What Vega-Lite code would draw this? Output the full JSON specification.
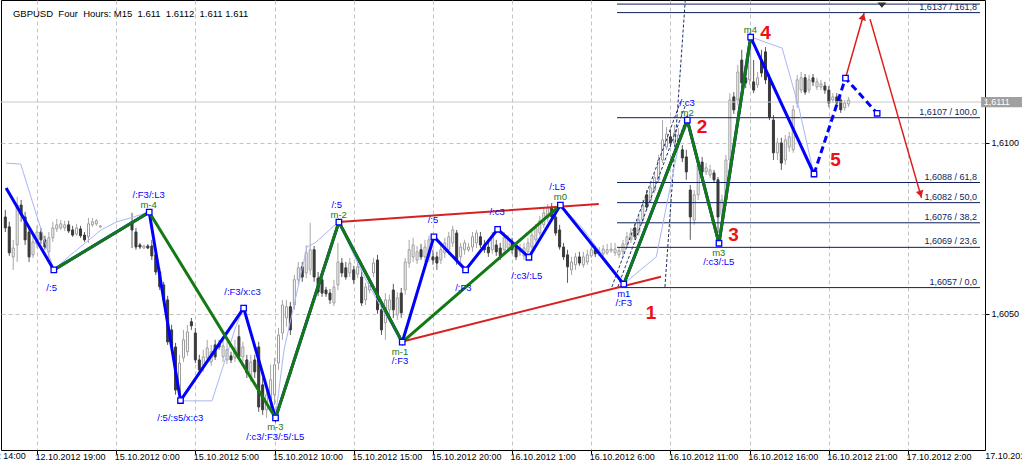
{
 "$schema": "https://vega.github.io/schema/vega-lite/v6.json",
 "width": 984, "height": 450,
 "autosize": {"type": "none"},
 "padding": {"left": 1, "top": 0, "right": 37, "bottom": 15},
 "background": "#ffffff",
 "config": {
  "view": {"stroke": "#000000", "strokeWidth": 1},
  "axis": {"title": null, "labelFont": "Liberation Sans", "labelFontSize": 9, "labelColor": "#000000", "tickColor": "#000000", "domain": false, "grid": true, "gridColor": "#c4c4c4", "gridDash": [4, 3], "gridWidth": 1},
  "text": {"font": "Liberation Sans"}
 },
 "datasets": {
  "candles": [
   {"t":-8,"o":1.60783,"h":1.60804,"l":1.60739,"c":1.60751},
   {"t":-7,"o":1.60754,"h":1.60769,"l":1.60669,"c":1.60678},
   {"t":-6,"o":1.60666,"h":1.60716,"l":1.60628,"c":1.60692},
   {"t":-5,"o":1.60701,"h":1.60842,"l":1.60651,"c":1.60818},
   {"t":-4,"o":1.60818,"h":1.60833,"l":1.60769,"c":1.60789},
   {"t":-3,"o":1.60783,"h":1.60798,"l":1.60701,"c":1.60716},
   {"t":-2,"o":1.60739,"h":1.60751,"l":1.60651,"c":1.60666},
   {"t":-1,"o":1.60672,"h":1.60728,"l":1.60663,"c":1.60710},
   {"t":0,"o":1.60704,"h":1.60757,"l":1.60692,"c":1.60739},
   {"t":1,"o":1.60739,"h":1.60751,"l":1.60704,"c":1.60716},
   {"t":2,"o":1.60716,"h":1.60728,"l":1.60687,"c":1.60695},
   {"t":3,"o":1.60681,"h":1.60739,"l":1.60663,"c":1.60722},
   {"t":4,"o":1.60722,"h":1.60769,"l":1.60710,"c":1.60751},
   {"t":5,"o":1.60748,"h":1.60777,"l":1.60739,"c":1.60760},
   {"t":6,"o":1.60751,"h":1.60774,"l":1.60745,"c":1.60763},
   {"t":7,"o":1.60751,"h":1.60772,"l":1.60742,"c":1.60760},
   {"t":8,"o":1.60760,"h":1.60772,"l":1.60736,"c":1.60742},
   {"t":9,"o":1.60745,"h":1.60757,"l":1.60725,"c":1.60730},
   {"t":10,"o":1.60733,"h":1.60763,"l":1.60728,"c":1.60751},
   {"t":11,"o":1.60748,"h":1.60757,"l":1.60722,"c":1.60728},
   {"t":12,"o":1.60730,"h":1.60739,"l":1.60710,"c":1.60716},
   {"t":13,"o":1.60725,"h":1.60780,"l":1.60707,"c":1.60763},
   {"t":14,"o":1.60760,"h":1.60780,"l":1.60754,"c":1.60769},
   {"t":15,"o":1.60763,"h":1.60777,"l":1.60757,"c":1.60772},
   {"t":16,"o":1.60754,"h":1.60757,"l":1.60751,"c":1.60757},
   {"t":24,"o":1.60769,"h":1.60795,"l":1.60692,"c":1.60745},
   {"t":25,"o":1.60739,"h":1.60751,"l":1.60687,"c":1.60695},
   {"t":26,"o":1.60701,"h":1.60707,"l":1.60689,"c":1.60695},
   {"t":27,"o":1.60692,"h":1.60701,"l":1.60689,"c":1.60698},
   {"t":28,"o":1.60698,"h":1.60704,"l":1.60689,"c":1.60692},
   {"t":29,"o":1.60698,"h":1.60716,"l":1.60657,"c":1.60669},
   {"t":30,"o":1.60672,"h":1.60687,"l":1.60613,"c":1.60622},
   {"t":31,"o":1.60622,"h":1.60634,"l":1.60569,"c":1.60578},
   {"t":32,"o":1.60584,"h":1.60593,"l":1.60531,"c":1.60540},
   {"t":33,"o":1.60540,"h":1.60552,"l":1.60408,"c":1.60417},
   {"t":34,"o":1.60452,"h":1.60467,"l":1.60394,"c":1.60408},
   {"t":35,"o":1.60402,"h":1.60414,"l":1.60262,"c":1.60276},
   {"t":36,"o":1.60267,"h":1.60379,"l":1.60247,"c":1.60355},
   {"t":37,"o":1.60370,"h":1.60452,"l":1.60358,"c":1.60423},
   {"t":38,"o":1.60388,"h":1.60467,"l":1.60376,"c":1.60446},
   {"t":39,"o":1.60476,"h":1.60487,"l":1.60452,"c":1.60464},
   {"t":40,"o":1.60443,"h":1.60458,"l":1.60355,"c":1.60364},
   {"t":41,"o":1.60364,"h":1.60379,"l":1.60326,"c":1.60335},
   {"t":42,"o":1.60341,"h":1.60394,"l":1.60329,"c":1.60373},
   {"t":43,"o":1.60370,"h":1.60423,"l":1.60358,"c":1.60399},
   {"t":44,"o":1.60358,"h":1.60408,"l":1.60347,"c":1.60388},
   {"t":45,"o":1.60408,"h":1.60423,"l":1.60364,"c":1.60373},
   {"t":46,"o":1.60411,"h":1.60423,"l":1.60394,"c":1.60402},
   {"t":47,"o":1.60373,"h":1.60423,"l":1.60358,"c":1.60405},
   {"t":48,"o":1.60364,"h":1.60417,"l":1.60352,"c":1.60394},
   {"t":49,"o":1.60376,"h":1.60388,"l":1.60355,"c":1.60364},
   {"t":50,"o":1.60370,"h":1.60423,"l":1.60358,"c":1.60399},
   {"t":51,"o":1.60432,"h":1.60467,"l":1.60364,"c":1.60373},
   {"t":52,"o":1.60373,"h":1.60417,"l":1.60358,"c":1.60402},
   {"t":53,"o":1.60364,"h":1.60379,"l":1.60311,"c":1.60326},
   {"t":54,"o":1.60311,"h":1.60379,"l":1.60300,"c":1.60358},
   {"t":55,"o":1.60364,"h":1.60379,"l":1.60311,"c":1.60329},
   {"t":56,"o":1.60402,"h":1.60417,"l":1.60212,"c":1.60226},
   {"t":57,"o":1.60291,"h":1.60311,"l":1.60203,"c":1.60218},
   {"t":58,"o":1.60218,"h":1.60276,"l":1.60194,"c":1.60262},
   {"t":59,"o":1.60247,"h":1.60350,"l":1.60218,"c":1.60306},
   {"t":60,"o":1.60262,"h":1.60370,"l":1.60232,"c":1.60350},
   {"t":61,"o":1.60355,"h":1.60458,"l":1.60335,"c":1.60437},
   {"t":62,"o":1.60443,"h":1.60540,"l":1.60423,"c":1.60525},
   {"t":63,"o":1.60487,"h":1.60540,"l":1.60461,"c":1.60520},
   {"t":64,"o":1.60520,"h":1.60534,"l":1.60437,"c":1.60452},
   {"t":65,"o":1.60525,"h":1.60613,"l":1.60511,"c":1.60599},
   {"t":66,"o":1.60599,"h":1.60651,"l":1.60584,"c":1.60634},
   {"t":67,"o":1.60637,"h":1.60651,"l":1.60593,"c":1.60607},
   {"t":68,"o":1.60619,"h":1.60701,"l":1.60604,"c":1.60678},
   {"t":69,"o":1.60628,"h":1.60766,"l":1.60613,"c":1.60687},
   {"t":70,"o":1.60687,"h":1.60698,"l":1.60593,"c":1.60607},
   {"t":71,"o":1.60604,"h":1.60622,"l":1.60552,"c":1.60563},
   {"t":72,"o":1.60599,"h":1.60610,"l":1.60549,"c":1.60560},
   {"t":73,"o":1.60569,"h":1.60578,"l":1.60549,"c":1.60558},
   {"t":74,"o":1.60560,"h":1.60572,"l":1.60528,"c":1.60540},
   {"t":75,"o":1.60531,"h":1.60599,"l":1.60522,"c":1.60578},
   {"t":76,"o":1.60584,"h":1.60707,"l":1.60569,"c":1.60651},
   {"t":77,"o":1.60648,"h":1.60663,"l":1.60607,"c":1.60619},
   {"t":78,"o":1.60634,"h":1.60651,"l":1.60599,"c":1.60607},
   {"t":79,"o":1.60619,"h":1.60663,"l":1.60607,"c":1.60648},
   {"t":80,"o":1.60628,"h":1.60640,"l":1.60587,"c":1.60599},
   {"t":81,"o":1.60616,"h":1.60651,"l":1.60604,"c":1.60637},
   {"t":82,"o":1.60607,"h":1.60628,"l":1.60522,"c":1.60531},
   {"t":83,"o":1.60540,"h":1.60590,"l":1.60525,"c":1.60578},
   {"t":84,"o":1.60569,"h":1.60604,"l":1.60560,"c":1.60590},
   {"t":85,"o":1.60619,"h":1.60663,"l":1.60607,"c":1.60648},
   {"t":86,"o":1.60657,"h":1.60672,"l":1.60499,"c":1.60511},
   {"t":87,"o":1.60511,"h":1.60525,"l":1.60437,"c":1.60452},
   {"t":88,"o":1.60473,"h":1.60560,"l":1.60423,"c":1.60540},
   {"t":89,"o":1.60511,"h":1.60555,"l":1.60496,"c":1.60540},
   {"t":90,"o":1.60569,"h":1.60587,"l":1.60487,"c":1.60511},
   {"t":91,"o":1.60496,"h":1.60563,"l":1.60481,"c":1.60546},
   {"t":92,"o":1.60560,"h":1.60575,"l":1.60487,"c":1.60502},
   {"t":93,"o":1.60569,"h":1.60663,"l":1.60555,"c":1.60651},
   {"t":94,"o":1.60648,"h":1.60716,"l":1.60634,"c":1.60687},
   {"t":95,"o":1.60666,"h":1.60722,"l":1.60651,"c":1.60701},
   {"t":96,"o":1.60657,"h":1.60698,"l":1.60645,"c":1.60681},
   {"t":97,"o":1.60687,"h":1.60704,"l":1.60657,"c":1.60666},
   {"t":98,"o":1.60666,"h":1.60716,"l":1.60651,"c":1.60695},
   {"t":99,"o":1.60666,"h":1.60728,"l":1.60651,"c":1.60716},
   {"t":100,"o":1.60666,"h":1.60687,"l":1.60643,"c":1.60657},
   {"t":101,"o":1.60666,"h":1.60681,"l":1.60628,"c":1.60648},
   {"t":102,"o":1.60657,"h":1.60701,"l":1.60645,"c":1.60687},
   {"t":103,"o":1.60678,"h":1.60722,"l":1.60663,"c":1.60707},
   {"t":104,"o":1.60687,"h":1.60739,"l":1.60672,"c":1.60725},
   {"t":105,"o":1.60707,"h":1.60757,"l":1.60695,"c":1.60745},
   {"t":106,"o":1.60736,"h":1.60745,"l":1.60643,"c":1.60657},
   {"t":107,"o":1.60666,"h":1.60707,"l":1.60651,"c":1.60695},
   {"t":108,"o":1.60687,"h":1.60716,"l":1.60672,"c":1.60707},
   {"t":109,"o":1.60687,"h":1.60707,"l":1.60681,"c":1.60695},
   {"t":110,"o":1.60695,"h":1.60739,"l":1.60681,"c":1.60725},
   {"t":111,"o":1.60707,"h":1.60745,"l":1.60692,"c":1.60736},
   {"t":112,"o":1.60725,"h":1.60739,"l":1.60692,"c":1.60701},
   {"t":113,"o":1.60701,"h":1.60716,"l":1.60678,"c":1.60687},
   {"t":114,"o":1.60695,"h":1.60710,"l":1.60666,"c":1.60678},
   {"t":115,"o":1.60687,"h":1.60739,"l":1.60675,"c":1.60725},
   {"t":116,"o":1.60701,"h":1.60716,"l":1.60669,"c":1.60681},
   {"t":117,"o":1.60692,"h":1.60707,"l":1.60657,"c":1.60669},
   {"t":118,"o":1.60687,"h":1.60739,"l":1.60675,"c":1.60722},
   {"t":119,"o":1.60692,"h":1.60730,"l":1.60681,"c":1.60716},
   {"t":120,"o":1.60707,"h":1.60722,"l":1.60675,"c":1.60687},
   {"t":121,"o":1.60695,"h":1.60707,"l":1.60657,"c":1.60666},
   {"t":122,"o":1.60681,"h":1.60704,"l":1.60669,"c":1.60692},
   {"t":123,"o":1.60669,"h":1.60707,"l":1.60657,"c":1.60692},
   {"t":124,"o":1.60681,"h":1.60722,"l":1.60672,"c":1.60707},
   {"t":125,"o":1.60695,"h":1.60745,"l":1.60687,"c":1.60730},
   {"t":126,"o":1.60716,"h":1.60763,"l":1.60707,"c":1.60751},
   {"t":127,"o":1.60736,"h":1.60786,"l":1.60728,"c":1.60772},
   {"t":128,"o":1.60760,"h":1.60810,"l":1.60751,"c":1.60795},
   {"t":129,"o":1.60780,"h":1.60821,"l":1.60769,"c":1.60810},
   {"t":130,"o":1.60812,"h":1.60824,"l":1.60774,"c":1.60783},
   {"t":131,"o":1.60783,"h":1.60795,"l":1.60728,"c":1.60736},
   {"t":132,"o":1.60745,"h":1.60760,"l":1.60687,"c":1.60695},
   {"t":133,"o":1.60695,"h":1.60707,"l":1.60657,"c":1.60666},
   {"t":134,"o":1.60672,"h":1.60687,"l":1.60590,"c":1.60637},
   {"t":135,"o":1.60628,"h":1.60666,"l":1.60613,"c":1.60651},
   {"t":136,"o":1.60643,"h":1.60678,"l":1.60628,"c":1.60666},
   {"t":137,"o":1.60666,"h":1.60681,"l":1.60640,"c":1.60648},
   {"t":138,"o":1.60643,"h":1.60681,"l":1.60634,"c":1.60666},
   {"t":139,"o":1.60651,"h":1.60687,"l":1.60643,"c":1.60672},
   {"t":140,"o":1.60669,"h":1.60698,"l":1.60663,"c":1.60687},
   {"t":141,"o":1.60687,"h":1.60698,"l":1.60666,"c":1.60675},
   {"t":142,"o":1.60675,"h":1.60695,"l":1.60669,"c":1.60681},
   {"t":143,"o":1.60675,"h":1.60701,"l":1.60666,"c":1.60689},
   {"t":144,"o":1.60678,"h":1.60704,"l":1.60672,"c":1.60687},
   {"t":145,"o":1.60684,"h":1.60707,"l":1.60678,"c":1.60689},
   {"t":146,"o":1.60678,"h":1.60707,"l":1.60669,"c":1.60689},
   {"t":147,"o":1.60672,"h":1.60695,"l":1.60663,"c":1.60684},
   {"t":148,"o":1.60681,"h":1.60716,"l":1.60669,"c":1.60704},
   {"t":149,"o":1.60701,"h":1.60739,"l":1.60692,"c":1.60725},
   {"t":150,"o":1.60716,"h":1.60751,"l":1.60707,"c":1.60736},
   {"t":151,"o":1.60751,"h":1.60763,"l":1.60716,"c":1.60725},
   {"t":152,"o":1.60739,"h":1.60789,"l":1.60728,"c":1.60774},
   {"t":153,"o":1.60774,"h":1.60833,"l":1.60763,"c":1.60818},
   {"t":154,"o":1.60848,"h":1.60862,"l":1.60804,"c":1.60812},
   {"t":155,"o":1.60833,"h":1.60880,"l":1.60824,"c":1.60868},
   {"t":156,"o":1.60862,"h":1.60912,"l":1.60854,"c":1.60898},
   {"t":157,"o":1.60892,"h":1.60965,"l":1.60883,"c":1.60950},
   {"t":158,"o":1.60950,"h":1.61067,"l":1.60941,"c":1.61009},
   {"t":159,"o":1.60988,"h":1.61047,"l":1.60980,"c":1.61026},
   {"t":160,"o":1.61018,"h":1.61038,"l":1.60988,"c":1.61000},
   {"t":161,"o":1.61000,"h":1.61053,"l":1.60988,"c":1.61029},
   {"t":162,"o":1.61003,"h":1.61044,"l":1.60991,"c":1.61023},
   {"t":163,"o":1.60980,"h":1.60994,"l":1.60944,"c":1.60956},
   {"t":164,"o":1.60959,"h":1.60980,"l":1.60892,"c":1.60915},
   {"t":165,"o":1.60862,"h":1.60877,"l":1.60716,"c":1.60783},
   {"t":166,"o":1.60774,"h":1.60862,"l":1.60760,"c":1.60848},
   {"t":167,"o":1.60848,"h":1.60950,"l":1.60833,"c":1.60936},
   {"t":168,"o":1.60944,"h":1.60959,"l":1.60900,"c":1.60915},
   {"t":169,"o":1.60915,"h":1.60941,"l":1.60906,"c":1.60927},
   {"t":170,"o":1.60906,"h":1.60936,"l":1.60898,"c":1.60921},
   {"t":171,"o":1.60912,"h":1.60921,"l":1.60883,"c":1.60892},
   {"t":172,"o":1.60892,"h":1.60900,"l":1.60736,"c":1.60783},
   {"t":173,"o":1.60789,"h":1.60848,"l":1.60769,"c":1.60833},
   {"t":174,"o":1.60833,"h":1.60965,"l":1.60818,"c":1.60950},
   {"t":175,"o":1.60950,"h":1.61146,"l":1.60936,"c":1.61126},
   {"t":176,"o":1.61135,"h":1.61149,"l":1.61085,"c":1.61097},
   {"t":177,"o":1.61126,"h":1.61229,"l":1.61111,"c":1.61208},
   {"t":178,"o":1.61243,"h":1.61273,"l":1.61161,"c":1.61176},
   {"t":179,"o":1.61191,"h":1.61214,"l":1.61161,"c":1.61176},
   {"t":180,"o":1.61185,"h":1.61311,"l":1.61170,"c":1.61287},
   {"t":181,"o":1.61179,"h":1.61243,"l":1.61146,"c":1.61155},
   {"t":182,"o":1.61170,"h":1.61208,"l":1.61161,"c":1.61191},
   {"t":183,"o":1.61243,"h":1.61273,"l":1.61193,"c":1.61205},
   {"t":184,"o":1.61267,"h":1.61281,"l":1.61173,"c":1.61185},
   {"t":185,"o":1.61191,"h":1.61202,"l":1.61067,"c":1.61076},
   {"t":186,"o":1.61067,"h":1.61082,"l":1.60950,"c":1.60971},
   {"t":187,"o":1.60971,"h":1.61015,"l":1.60950,"c":1.61000},
   {"t":188,"o":1.61000,"h":1.61015,"l":1.60921,"c":1.60941},
   {"t":189,"o":1.60950,"h":1.61023,"l":1.60936,"c":1.61009},
   {"t":190,"o":1.60988,"h":1.61032,"l":1.60974,"c":1.61018},
   {"t":191,"o":1.60980,"h":1.61111,"l":1.60971,"c":1.61097},
   {"t":192,"o":1.61117,"h":1.61199,"l":1.61103,"c":1.61185},
   {"t":193,"o":1.61155,"h":1.61208,"l":1.61146,"c":1.61191},
   {"t":194,"o":1.61191,"h":1.61202,"l":1.61141,"c":1.61149},
   {"t":195,"o":1.61155,"h":1.61199,"l":1.61146,"c":1.61185},
   {"t":196,"o":1.61191,"h":1.61202,"l":1.61167,"c":1.61179},
   {"t":197,"o":1.61164,"h":1.61191,"l":1.61155,"c":1.61179},
   {"t":198,"o":1.61164,"h":1.61185,"l":1.61155,"c":1.61173},
   {"t":199,"o":1.61167,"h":1.61179,"l":1.61144,"c":1.61155},
   {"t":200,"o":1.61155,"h":1.61167,"l":1.61105,"c":1.61117},
   {"t":201,"o":1.61126,"h":1.61146,"l":1.61117,"c":1.61135},
   {"t":202,"o":1.61135,"h":1.61146,"l":1.61108,"c":1.61117},
   {"t":203,"o":1.61126,"h":1.61138,"l":1.61088,"c":1.61097},
   {"t":204,"o":1.61103,"h":1.61126,"l":1.61094,"c":1.61117},
   {"t":205,"o":1.61114,"h":1.61135,"l":1.61105,"c":1.61126}
  ],
  "blue": [
   {"t":-7.8,"p":1.60868},{"t":4.25,"p":1.60628},{"t":28.35,"p":1.60797},{"t":36.25,"p":1.60245},
   {"t":52.2,"p":1.60516},{"t":60.25,"p":1.60194},{"t":76.25,"p":1.60768},{"t":92.25,"p":1.60416},
   {"t":100.25,"p":1.60725},{"t":108.25,"p":1.60628},{"t":116.35,"p":1.60747},{"t":124.25,"p":1.60665},
   {"t":132.2,"p":1.60818},{"t":148.2,"p":1.60586},{"t":164.25,"p":1.61067},{"t":172.25,"p":1.60706},
   {"t":180.25,"p":1.61310},{"t":196.25,"p":1.60909}
  ],
  "bdash": [
   {"t":196.25,"p":1.60909},{"t":204.2,"p":1.61190},{"t":212.2,"p":1.61087}
  ],
  "green": [
   {"seg":"a","t":4.25,"p":1.60628},{"seg":"a","t":28.35,"p":1.60797},{"seg":"a","t":60.25,"p":1.60194},
   {"seg":"a","t":76.25,"p":1.60768},{"seg":"a","t":92.25,"p":1.60416},{"seg":"a","t":132.2,"p":1.60818},
   {"seg":"b","t":148.2,"p":1.60586},{"seg":"b","t":164.25,"p":1.61067},{"seg":"b","t":172.25,"p":1.60706},
   {"seg":"b","t":180.25,"p":1.61310}
  ],
  "light": [
   {"t":-7.8,"p":1.60941},{"t":-4.1,"p":1.60938},{"t":4.2,"p":1.60628},{"t":8.2,"p":1.60669},
   {"t":12.2,"p":1.60707},{"t":16.2,"p":1.60745},{"t":20.2,"p":1.60769},{"t":24.4,"p":1.60783},
   {"t":28.35,"p":1.60798},{"t":36.2,"p":1.60244},{"t":44.2,"p":1.60244},{"t":50.2,"p":1.60461},
   {"t":52.2,"p":1.60517},{"t":60.2,"p":1.60194},{"t":62.4,"p":1.60394},{"t":68.2,"p":1.60695},
   {"t":70.2,"p":1.60707},{"t":76.2,"p":1.60769},{"t":79.4,"p":1.60687},{"t":82.7,"p":1.60607},
   {"t":87.7,"p":1.60502},{"t":92.2,"p":1.60417},{"t":100.2,"p":1.60725},{"t":108.2,"p":1.60628},
   {"t":116.4,"p":1.60748},{"t":124.2,"p":1.60666},{"t":132.2,"p":1.60818},{"t":137.7,"p":1.60751},
   {"t":148.2,"p":1.60587},{"t":156.4,"p":1.60666},{"t":162.7,"p":1.61029},{"t":164.2,"p":1.61067},
   {"t":172.2,"p":1.60707},{"t":180.2,"p":1.61311},{"t":188.2,"p":1.61278},{"t":192.4,"p":1.61105},
   {"t":196.2,"p":1.60909}
  ],
  "dashes": [
   {"id":"d1","t":145.2,"p":1.60578},{"id":"d1","t":162.7,"p":1.61126},
   {"id":"d2","t":146.7,"p":1.60578},{"id":"d2","t":163.7,"p":1.61108},
   {"id":"d3","t":148.2,"p":1.60578},{"id":"d3","t":164.4,"p":1.61085},
   {"id":"d4","t":158.6,"p":1.60578},{"id":"d4","t":163.75,"p":1.61419}
  ],
  "trend": [
   {"id":"u","t":76.1,"p":1.60768},{"id":"u","t":141.9,"p":1.60821},
   {"id":"d","t":92.35,"p":1.60418},{"id":"d","t":157.6,"p":1.60608}
  ],
  "arrows": [
   {"id":"a1","t":204.2,"p":1.61190},{"id":"a1","t":208.9,"p":1.61381},
   {"id":"a2","t":210.4,"p":1.61363},{"id":"a2","t":223.4,"p":1.60839}
  ],
  "fib": [
   {"p":1.61407,"s":""},{"p":1.61382,"s":"1,6137 / 161,8"},{"p":1.61074,"s":"1,6107 / 100,0"},
   {"p":1.60884,"s":"1,6088 / 61,8"},{"p":1.60825,"s":"1,6082 / 50,0"},{"p":1.60766,"s":"1,6076 / 38,2"},
   {"p":1.60694,"s":"1,6069 / 23,6"},{"p":1.60576,"s":"1,6057 / 0,0"}
  ],
  "lab": [
   {"t":3.7,"p":1.60575,"s":"/:5","k":"b"},
   {"t":28.2,"p":1.60848,"s":"/:F3/:L3","k":"b"},
   {"t":28.2,"p":1.60818,"s":"m-4","k":"g"},
   {"t":36.2,"p":1.60194,"s":"/:5/:s5/x:c3","k":"b"},
   {"t":51.9,"p":1.60563,"s":"/:F3/x:c3","k":"b"},
   {"t":60.2,"p":1.60168,"s":"m-3","k":"g"},
   {"t":60.2,"p":1.60139,"s":"/:c3/:F3/:5/:L5","k":"b"},
   {"t":75.7,"p":1.60818,"s":"/:5","k":"b"},
   {"t":76.2,"p":1.60789,"s":"m-2","k":"g"},
   {"t":91.7,"p":1.60388,"s":"m-1","k":"g"},
   {"t":91.7,"p":1.60361,"s":"/:F3","k":"b"},
   {"t":100,"p":1.60774,"s":"/:5","k":"b"},
   {"t":107.7,"p":1.60575,"s":"/:F3","k":"b"},
   {"t":116.2,"p":1.60798,"s":"/:c3","k":"b"},
   {"t":123.7,"p":1.60610,"s":"/:c3/:L5","k":"b"},
   {"t":131.4,"p":1.60871,"s":"/:L5","k":"b"},
   {"t":132.2,"p":1.60842,"s":"m0","k":"g"},
   {"t":148.2,"p":1.60558,"s":"m1","k":"b"},
   {"t":148.2,"p":1.60531,"s":"/:F3","k":"b"},
   {"t":164.2,"p":1.61117,"s":"/:c3","k":"b"},
   {"t":164.2,"p":1.61088,"s":"m2","k":"g"},
   {"t":172.2,"p":1.60678,"s":"m3","k":"g"},
   {"t":172.2,"p":1.60651,"s":"/:c3/:L5","k":"b"},
   {"t":180.2,"p":1.61331,"s":"m4","k":"g"}
  ],
  "nums": [
   {"t":155.1,"p":1.60502,"s":"1"},{"t":168,"p":1.61047,"s":"2"},{"t":175.9,"p":1.60730,"s":"3"},
   {"t":184,"p":1.61322,"s":"4"},{"t":201.7,"p":1.60950,"s":"5"}
  ],
  "xextra": [
   {"t":-20,"s":"12.10.2012 14:00"},{"t":240,"s":"17.10.2012 7:00"}
  ]
 },
 "layer": [
  {
   "data": {"name": "candles"},
   "mark": {"type": "rule", "clip": true, "strokeWidth": 1},
   "encoding": {
    "x": {"field": "t", "type": "quantitative",
     "scale": {"domain": [-7.825, 238.175], "nice": false, "zero": false},
     "axis": {"values": [0,20,40,60,80,100,120,140,160,180,200,220],
      "labelExpr": "['12.10.2012 19:00','15.10.2012 0:00','15.10.2012 5:00','15.10.2012 10:00','15.10.2012 15:00','15.10.2012 20:00','16.10.2012 1:00','16.10.2012 6:00','16.10.2012 11:00','16.10.2012 16:00','16.10.2012 21:00','17.10.2012 2:00'][round(datum.value/20)]",
      "labelAlign": "left", "labelBaseline": "top", "labelOffset": -2, "labelPadding": -2, "tickSize": 4,
      "labelOverlap": false, "labelBound": false, "labelFlush": false, "title": null}},
    "y": {"field": "l", "type": "quantitative",
     "scale": {"domain": [1.601, 1.61419], "nice": false, "zero": false},
     "axis": {"orient": "right", "values": [1.605, 1.61],
      "labelExpr": "replace(format(datum.value, '.4f'), '.', ',')",
      "tickSize": 4, "labelPadding": 2, "title": null}},
    "y2": {"field": "h"},
    "color": {"condition": {"test": "datum.c >= datum.o", "value": "#a8a8a8"}, "value": "#5a5a5a"}
   }
  },
  {
   "data": {"name": "candles"},
   "mark": {"type": "bar", "clip": true, "size": 2, "strokeWidth": 1},
   "encoding": {
    "x": {"field": "t", "type": "quantitative"},
    "y": {"field": "o", "type": "quantitative"},
    "y2": {"field": "c"},
    "fill": {"condition": {"test": "datum.c >= datum.o", "value": "#ffffff"}, "value": "#3a3a3a"},
    "stroke": {"condition": {"test": "datum.c >= datum.o", "value": "#9c9c9c"}, "value": "#3a3a3a"}
   }
  },
  {
   "data": {"values": [{"p": 1.6112}]},
   "mark": {"type": "rule", "color": "#c8c8c8", "strokeWidth": 1},
   "encoding": {"y": {"field": "p", "type": "quantitative"}}
  },
  {
   "data": {"name": "fib"},
   "mark": {"type": "rule", "color": "#0c1f5c", "strokeWidth": 1},
   "encoding": {
    "x": {"datum": 146.5, "type": "quantitative"},
    "x2": {"datum": 238.175},
    "y": {"field": "p", "type": "quantitative"}
   }
  },
  {
   "data": {"name": "dashes"},
   "mark": {"type": "line", "clip": true, "color": "#1c2f6e", "strokeWidth": 1, "strokeDash": [3, 2]},
   "encoding": {
    "x": {"field": "t", "type": "quantitative"},
    "y": {"field": "p", "type": "quantitative"},
    "detail": {"field": "id"}
   }
  },
  {
   "data": {"name": "light"},
   "mark": {"type": "line", "clip": true, "color": "#a9b6f5", "strokeWidth": 1},
   "encoding": {
    "x": {"field": "t", "type": "quantitative"},
    "y": {"field": "p", "type": "quantitative"}
   }
  },
  {
   "data": {"name": "trend"},
   "mark": {"type": "line", "clip": true, "color": "#d82020", "strokeWidth": 2},
   "encoding": {
    "x": {"field": "t", "type": "quantitative"},
    "y": {"field": "p", "type": "quantitative"},
    "detail": {"field": "id"}
   }
  },
  {
   "data": {"name": "blue"},
   "mark": {"type": "line", "clip": true, "color": "#0000ff", "strokeWidth": 3},
   "encoding": {
    "x": {"field": "t", "type": "quantitative"},
    "y": {"field": "p", "type": "quantitative"}
   }
  },
  {
   "data": {"name": "bdash"},
   "mark": {"type": "line", "clip": true, "color": "#0000ff", "strokeWidth": 3, "strokeDash": [7, 4]},
   "encoding": {
    "x": {"field": "t", "type": "quantitative"},
    "y": {"field": "p", "type": "quantitative"}
   }
  },
  {
   "data": {"name": "green"},
   "mark": {"type": "line", "clip": true, "color": "#137a13", "strokeWidth": 3},
   "encoding": {
    "x": {"field": "t", "type": "quantitative"},
    "y": {"field": "p", "type": "quantitative"},
    "detail": {"field": "seg"}
   }
  },
  {
   "data": {"name": "arrows"},
   "mark": {"type": "line", "clip": true, "color": "#e01a1a", "strokeWidth": 1.5},
   "encoding": {
    "x": {"field": "t", "type": "quantitative"},
    "y": {"field": "p", "type": "quantitative"},
    "detail": {"field": "id"}
   }
  },
  {
   "data": {"values": [{"t": 208.65, "p": 1.6137}]},
   "mark": {"type": "point", "shape": "triangle-up", "size": 60, "filled": true, "color": "#e01a1a", "opacity": 1, "angle": 16},
   "encoding": {
    "x": {"field": "t", "type": "quantitative"},
    "y": {"field": "p", "type": "quantitative"}
   }
  },
  {
   "data": {"values": [{"t": 223.15, "p": 1.6085}]},
   "mark": {"type": "point", "shape": "triangle-down", "size": 60, "filled": true, "color": "#e01a1a", "opacity": 1, "angle": 344},
   "encoding": {
    "x": {"field": "t", "type": "quantitative"},
    "y": {"field": "p", "type": "quantitative"}
   }
  },
  {
   "data": {"name": "blue"},
   "transform": [{"filter": "datum.t > 0"}],
   "mark": {"type": "point", "shape": "square", "size": 30, "filled": true, "fill": "#ffffff", "stroke": "#0000ff", "strokeWidth": 1.3, "opacity": 1},
   "encoding": {
    "x": {"field": "t", "type": "quantitative"},
    "y": {"field": "p", "type": "quantitative"}
   }
  },
  {
   "data": {"name": "bdash"},
   "transform": [{"filter": "datum.t > 200"}],
   "mark": {"type": "point", "shape": "square", "size": 30, "filled": true, "fill": "#ffffff", "stroke": "#0000ff", "strokeWidth": 1.3, "opacity": 1},
   "encoding": {
    "x": {"field": "t", "type": "quantitative"},
    "y": {"field": "p", "type": "quantitative"}
   }
  },
  {
   "data": {"name": "lab"},
   "mark": {"type": "text", "fontSize": 9.5, "font": "Liberation Sans", "align": "center", "baseline": "middle"},
   "encoding": {
    "x": {"field": "t", "type": "quantitative"},
    "y": {"field": "p", "type": "quantitative"},
    "text": {"field": "s"},
    "color": {"field": "k", "type": "nominal", "scale": {"domain": ["b", "g"], "range": ["#0000ff", "#137a13"]}, "legend": null}
   }
  },
  {
   "data": {"name": "nums"},
   "mark": {"type": "text", "fontSize": 19, "fontWeight": "bold", "font": "Liberation Sans", "color": "#ee1111", "align": "center", "baseline": "middle"},
   "encoding": {
    "x": {"field": "t", "type": "quantitative"},
    "y": {"field": "p", "type": "quantitative"},
    "text": {"field": "s"}
   }
  },
  {
   "data": {"name": "fib"},
   "mark": {"type": "text", "fontSize": 9, "font": "Liberation Sans", "color": "#0c1f5c", "align": "right", "baseline": "bottom", "dy": -1},
   "encoding": {
    "x": {"datum": 237.4, "type": "quantitative"},
    "y": {"field": "p", "type": "quantitative"},
    "text": {"field": "s"}
   }
  },
  {
   "data": {"values": [{"t": -6.075, "p": 1.61378, "s": "GBPUSD\u00a0\u00a0Four\u00a0\u00a0Hours:\u00a0M15\u00a0\u00a01.611\u00a0\u00a01.6112\u00a0\u00a01.611\u00a01.611"}]},
   "mark": {"type": "text", "fontSize": 9.5, "font": "Liberation Sans", "color": "#000000", "align": "left", "baseline": "middle"},
   "encoding": {
    "x": {"field": "t", "type": "quantitative"},
    "y": {"field": "p", "type": "quantitative"},
    "text": {"field": "s"}
   }
  },
  {
   "data": {"values": [{"t1": 238.45, "t2": 252, "p1": 1.61135, "p2": 1.61105}]},
   "mark": {"type": "rect", "color": "#a0a0a0"},
   "encoding": {
    "x": {"field": "t1", "type": "quantitative"},
    "x2": {"field": "t2"},
    "y": {"field": "p1", "type": "quantitative"},
    "y2": {"field": "p2"}
   }
  },
  {
   "data": {"values": [{"t": 239.1, "p": 1.6112, "s": "1,6111"}]},
   "mark": {"type": "text", "fontSize": 9, "font": "Liberation Sans", "color": "#ffffff", "align": "left", "baseline": "middle"},
   "encoding": {
    "x": {"field": "t", "type": "quantitative"},
    "y": {"field": "p", "type": "quantitative"},
    "text": {"field": "s"}
   }
  },
  {
   "data": {"name": "xextra"},
   "mark": {"type": "text", "fontSize": 9, "font": "Liberation Sans", "color": "#000000", "align": "left", "baseline": "top", "dx": -2, "dy": 2},
   "encoding": {
    "x": {"field": "t", "type": "quantitative"},
    "y": {"datum": 1.601, "type": "quantitative"},
    "text": {"field": "s"}
   }
  },
  {
   "data": {"values": [{"t": 213.4, "p": 1.61404}]},
   "mark": {"type": "point", "shape": "M-1,-0.6L1,-0.6L0,0.6Z", "size": 80, "filled": true, "color": "#303030", "opacity": 1},
   "encoding": {
    "x": {"field": "t", "type": "quantitative"},
    "y": {"field": "p", "type": "quantitative"}
   }
  }
 ]
}
